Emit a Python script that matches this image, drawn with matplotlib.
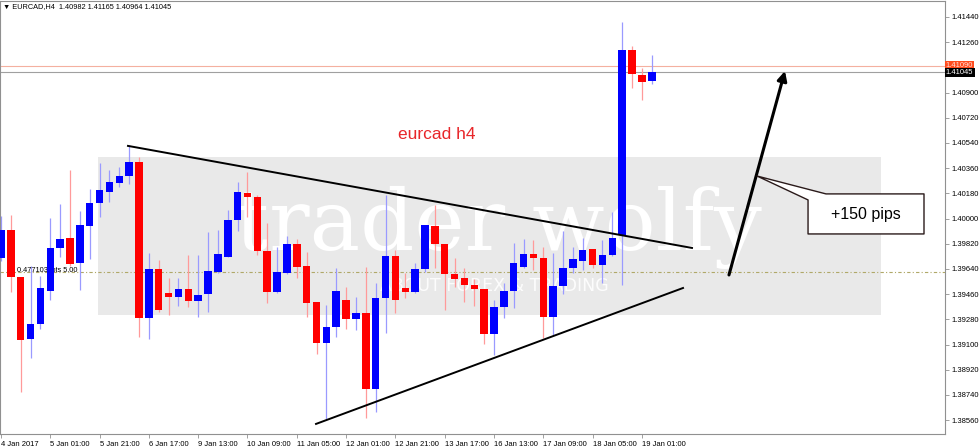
import matplotlib
matplotlib.use("Agg")
import matplotlib.pyplot as plt
import matplotlib.transforms as mtransforms
from matplotlib.patches import Rectangle, Polygon

# EURCAD H4 candles, 4 Jan 2017 05:00 .. 19 Jan 2017 05:00
opens = [1.39719, 1.39919, 1.39583, 1.39140, 1.39247, 1.39483, 1.39790, 1.39861, 1.39683, 1.39947,
         1.40111, 1.40190, 1.40254, 1.40304, 1.40404, 1.39290, 1.39640, 1.39469, 1.39440, 1.39497,
         1.39411, 1.39461, 1.39619, 1.39726, 1.39990, 1.40183, 1.40154, 1.39769, 1.39476, 1.39611,
         1.39819, 1.39661, 1.39404, 1.39111, 1.39226, 1.39419, 1.39283, 1.39326, 1.38783, 1.39433,
         1.39733, 1.39504, 1.39476, 1.39640, 1.39947, 1.39819, 1.39604, 1.39576, 1.39526, 1.39497,
         1.39176, 1.39369, 1.39483, 1.39654, 1.39747, 1.39719, 1.39297, 1.39519, 1.39647, 1.39697,
         1.39783, 1.39669, 1.39740, 1.39883, 1.41204, 1.41026, 1.40982]
highs = [1.40019, 1.40026, 1.39583, 1.39661, 1.39590, 1.40004, 1.40104, 1.40347, 1.40054, 1.40211,
         1.40397, 1.40347, 1.40369, 1.40526, 1.40440, 1.39754, 1.39704, 1.39576, 1.39576, 1.39740,
         1.39740, 1.39904, 1.39919, 1.40061, 1.40261, 1.40333, 1.40169, 1.39969, 1.39797, 1.39876,
         1.39854, 1.39761, 1.39404, 1.39383, 1.39647, 1.39511, 1.39440, 1.39654, 1.39540, 1.40169,
         1.39776, 1.39611, 1.39683, 1.39954, 1.40097, 1.39819, 1.39719, 1.39647, 1.39569, 1.39497,
         1.39419, 1.39540, 1.39826, 1.39854, 1.39847, 1.39797, 1.39754, 1.39911, 1.39797, 1.39861,
         1.39783, 1.39847, 1.40047, 1.41404, 1.41233, 1.41076, 1.41165]
lows = [1.39697, 1.39476, 1.38761, 1.39004, 1.39211, 1.39419, 1.39726, 1.39661, 1.39490, 1.39711,
        1.40011, 1.40119, 1.40226, 1.40247, 1.39154, 1.39140, 1.39333, 1.39311, 1.39376, 1.39369,
        1.39297, 1.39333, 1.39611, 1.39726, 1.39911, 1.40011, 1.39740, 1.39397, 1.39469, 1.39604,
        1.39576, 1.39297, 1.39033, 1.38569, 1.39154, 1.39211, 1.39204, 1.38576, 1.38619, 1.39183,
        1.39326, 1.39433, 1.39469, 1.39619, 1.39647, 1.39347, 1.39511, 1.39404, 1.39376, 1.39104,
        1.39026, 1.39290, 1.39361, 1.39647, 1.39633, 1.39147, 1.39169, 1.39461, 1.39611, 1.39633,
        1.39647, 1.39540, 1.39733, 1.39526, 1.40933, 1.40847, 1.40964]
closes = [1.39919, 1.39583, 1.39133, 1.39247, 1.39504, 1.39790, 1.39854, 1.39676, 1.39954, 1.40111,
          1.40204, 1.40261, 1.40304, 1.40404, 1.39290, 1.39640, 1.39347, 1.39440, 1.39497, 1.39411,
          1.39454, 1.39626, 1.39747, 1.39990, 1.40190, 1.40154, 1.39769, 1.39476, 1.39619, 1.39819,
          1.39654, 1.39397, 1.39111, 1.39226, 1.39483, 1.39283, 1.39326, 1.38783, 1.39433, 1.39733,
          1.39419, 1.39476, 1.39640, 1.39954, 1.39819, 1.39604, 1.39569, 1.39526, 1.39497, 1.39176,
          1.39369, 1.39483, 1.39683, 1.39747, 1.39719, 1.39297, 1.39519, 1.39647, 1.39711, 1.39776,
          1.39669, 1.39740, 1.39861, 1.41204, 1.41033, 1.40976, 1.41045]

time_ticks = list(range(0, 66, 5))
time_labels = ["4 Jan 2017", "5 Jan 01:00", "5 Jan 21:00", "6 Jan 17:00", "9 Jan 13:00",
               "10 Jan 09:00", "11 Jan 05:00", "12 Jan 01:00", "12 Jan 21:00", "13 Jan 17:00",
               "16 Jan 13:00", "17 Jan 09:00", "18 Jan 05:00", "19 Jan 01:00"]
price_ticks = [1.38560, 1.38740, 1.38920, 1.39100, 1.39280, 1.39460, 1.39640, 1.39820,
               1.40000, 1.40180, 1.40360, 1.40540, 1.40720, 1.40900, 1.41260, 1.41440]

ask_price = 1.41090
last_price = 1.41045
order_level = 1.39619

# drawn objects: (bar index, price)
upper_trend = [(12.88, 1.40519), (70.08, 1.39790)]
lower_trend = [(31.95, 1.38533), (69.17, 1.39504)]
move_arrow = [(73.83, 1.39597), (79.51, 1.41054)]

MT4_FONT = "Liberation Sans"
BLUE = "#0000ff"
RED = "#ff0000"

fig = plt.figure(figsize=(9.8, 4.48), dpi=100)
ax = fig.add_axes([0.0, 14 / 448, 945 / 980, 433 / 448])
ax.set_xlim(-0.1, 95.74)
ax.set_ylim(1.38461, 1.41554)

# watermark
ax.add_patch(Rectangle((9.84, 1.39311), 89.25 - 9.84, 1.40440 - 1.39311,
                       facecolor="#e9e9e9", edgecolor="none", zorder=0))
ax.text(50.4, 1.39776, "trader wolfy", family="DejaVu Serif", fontsize=61,
        color="white", ha="center", va="baseline", zorder=0.5)
ax.text(50.0, 1.39519, "ABOUT FOREX & TRADING", family="DejaVu Sans", fontsize=12.5,
        color="white", alpha=0.9, ha="center", va="center", zorder=0.5)

# level lines
ax.axhline(ask_price, color="#f4b0a0", lw=0.8, zorder=1)
ax.axhline(last_price, color="#a0a0a0", lw=0.8, zorder=1)
ax.axhline(order_level, color="#b0a868", lw=0.8, ls=(0, (3, 2, 1, 2)), zorder=1)
ax.text(1.6, order_level + 0.00012, "0.477103 lots 5.00", family=MT4_FONT,
        fontsize=5.3, color="black", va="center", zorder=3)

# candles
idx = list(range(len(opens)))
up = [c >= o for o, c in zip(opens, closes)]
wick_cols = ["#9a9aff" if u else "#ff9a9a" for u in up]
body_cols = [BLUE if u else RED for u in up]
ax.vlines(idx, lows, highs, colors=wick_cols, lw=0.9, zorder=2)
bottoms = [min(o, c) for o, c in zip(opens, closes)]
heights = [max(abs(c - o), 0.00004) for o, c in zip(opens, closes)]
ax.bar(idx, heights, bottom=bottoms, width=0.76, color=body_cols, edgecolor="none", zorder=3)

# trend lines and arrow
ax.plot(*zip(*upper_trend), color="black", lw=1.4, zorder=4)
ax.plot(*zip(*lower_trend), color="black", lw=1.4, zorder=4)
ax.annotate("", xy=move_arrow[1], xytext=move_arrow[0],
            arrowprops=dict(arrowstyle="-|>", color="black", lw=2.2, mutation_scale=14,
                            shrinkA=0, shrinkB=0), zorder=4)

# callout
callout = [(76.67, 1.40304), (83.67, 1.40176), (93.61, 1.40176), (93.61, 1.39890),
           (81.85, 1.39890), (81.85, 1.40133)]
ax.add_patch(Polygon(callout, closed=True, facecolor="white", edgecolor="#2a1a1a",
                     lw=1.0, joinstyle="round", zorder=5))
ax.text(87.73, 1.40030, "+150 pips", family="Liberation Sans", fontsize=11.5,
        color="black", ha="center", va="center", zorder=6)

ax.text(44.2, 1.40597, "eurcad h4", family="Liberation Sans", fontsize=12.5,
        color="#e8262a", ha="center", va="center", zorder=6)

# header
ax.text(0.003, 0.995, "\u25bc EURCAD,H4  1.40982 1.41165 1.40964 1.41045",
        transform=ax.transAxes, family=[MT4_FONT, "DejaVu Sans"], fontsize=5.3,
        ha="left", va="top", zorder=6)

# axes
for s in ax.spines.values():
    s.set_color("#909090")
    s.set_linewidth(0.8)
ax.yaxis.tick_right()
ax.set_yticks(price_ticks)
ax.set_yticklabels([f"{p:.5f}" for p in price_ticks])
ax.set_xticks(time_ticks)
ax.set_xticklabels(time_labels, ha="left")
ax.tick_params(axis="both", length=3, width=0.6, color="#909090", labelsize=5.5, pad=2)
for lab in ax.get_xticklabels() + ax.get_yticklabels():
    lab.set_family(MT4_FONT)

# price labels on the scale
trans = mtransforms.blended_transform_factory(ax.transAxes, ax.transData)
ax.text(1.001, ask_price, "1.41090", transform=trans, family=MT4_FONT, fontsize=5.5,
        color="#ffe0d8", ha="left", va="center", clip_on=False, zorder=7,
        bbox=dict(boxstyle="square,pad=0.15", facecolor="#ff4a1c", edgecolor="none"))
ax.text(1.001, last_price, "1.41045", transform=trans, family=MT4_FONT, fontsize=5.5,
        color="white", ha="left", va="center", clip_on=False, zorder=8,
        bbox=dict(boxstyle="square,pad=0.15", facecolor="black", edgecolor="none"))

fig.savefig("out.png", dpi=100)
